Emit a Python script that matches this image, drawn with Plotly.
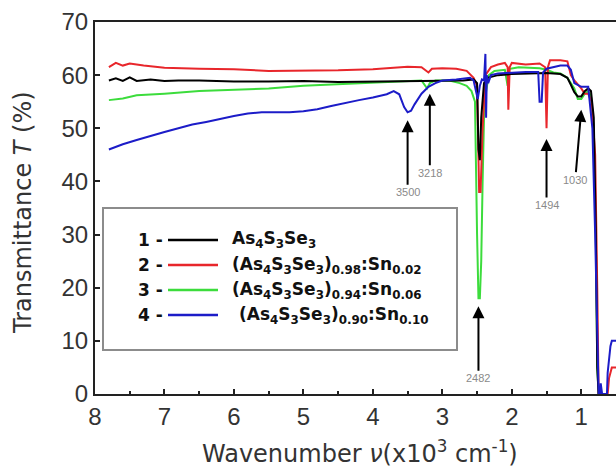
import plotly.graph_objects as go

# ---------------- data (wavenumber in 10^3 cm^-1, transmittance in %) -------------
black_x = [7.8, 7.7, 7.6, 7.5, 7.4, 7.2, 7.0, 6.8, 6.5, 6.0, 5.5, 5.0, 4.5, 4.0, 3.5, 3.0,
           2.7, 2.55, 2.5, 2.48, 2.46, 2.44, 2.40, 2.35, 2.2, 2.0, 1.8, 1.5, 1.3, 1.2,
           1.15, 1.1, 1.05, 1.0, 0.95, 0.9, 0.86, 0.82, 0.79, 0.77, 0.75, 0.72]
black_y = [59.0, 59.4, 58.9, 59.6, 58.9, 59.2, 58.9, 59.0, 59.0, 58.8, 58.8, 58.9, 58.7,
           58.8, 58.9, 58.9, 59.0, 59.2, 58.5, 46.0, 44.0, 52.0, 58.5, 59.5, 60.0, 60.2,
           60.3, 60.4, 60.2, 59.5, 58.2, 56.8, 56.0, 56.0, 57.0, 57.5, 57.0, 52.0, 30.0,
           5.0, 0.0, 0.0]

red_x = [7.8, 7.7, 7.6, 7.5, 7.3, 7.0, 6.5, 6.0, 5.5, 5.0, 4.5, 4.0, 3.5, 3.3, 3.2, 3.15,
         3.0, 2.8, 2.65, 2.55, 2.5, 2.47, 2.45, 2.42, 2.38, 2.3, 2.2, 2.1, 2.06, 2.05,
         2.03, 2.0, 1.8, 1.6, 1.52, 1.5, 1.48, 1.45, 1.3, 1.2, 1.15, 1.1, 1.0, 0.95, 0.9,
         0.85, 0.8, 0.77, 0.75, 0.70, 0.62, 0.60, 0.56, 0.50]
red_y = [61.5, 62.3, 61.8, 62.2, 61.8, 61.4, 61.2, 61.1, 60.8, 60.8, 60.9, 61.1, 61.6,
         61.5, 60.5, 61.2, 61.3, 61.2, 60.8, 59.5, 58.0, 38.0, 38.0, 50.0, 60.0, 61.5,
         62.0, 62.3, 61.5, 53.5, 61.5, 62.3, 62.0, 62.2, 61.5, 50.0, 61.5, 62.8, 62.8,
         62.6, 60.0, 59.0, 57.5, 56.5, 56.5, 55.0, 45.0, 20.0, 0.0, 0.0, 0.0, 3.0, 5.0, 5.0]

green_x = [7.8, 7.6, 7.4, 7.2, 7.0, 6.5, 6.0, 5.5, 5.0, 4.5, 4.0, 3.6, 3.3, 3.22, 3.18,
           3.1, 2.9, 2.75, 2.65, 2.58, 2.53, 2.5, 2.48, 2.46, 2.44, 2.42, 2.40, 2.37,
           2.33, 2.25, 2.1, 2.06, 2.04, 2.02, 1.9, 1.6, 1.5, 1.4, 1.3, 1.2, 1.1, 1.05,
           1.0, 0.95, 0.9, 0.86, 0.82, 0.79, 0.77, 0.75]
green_y = [55.3, 55.6, 56.2, 56.3, 56.5, 57.0, 57.3, 57.5, 58.0, 58.3, 58.6, 58.8, 59.0,
           57.5, 58.5, 59.0, 59.0, 58.5, 58.0, 57.0, 55.0, 30.0, 18.0, 18.0, 25.0, 40.0,
           52.0, 57.0, 60.0, 60.8, 61.0, 58.0, 61.2, 61.2, 61.5, 61.3, 61.0, 60.5, 60.3,
           59.5, 57.5, 55.5, 55.5, 56.5, 57.0, 56.0, 50.0, 30.0, 5.0, 0.0]

blue_x = [7.8, 7.6, 7.4, 7.2, 7.0, 6.8, 6.6, 6.4, 6.2, 6.0, 5.8, 5.6, 5.4, 5.2, 5.0, 4.8,
          4.6, 4.4, 4.2, 4.0, 3.8, 3.7, 3.62, 3.55, 3.5, 3.45, 3.4, 3.3, 3.2, 3.1, 3.0,
          2.8, 2.6, 2.55, 2.52, 2.49, 2.46, 2.43, 2.4, 2.38, 2.37, 2.36, 2.34, 2.3, 2.2,
          2.0, 1.8, 1.62, 1.6, 1.57, 1.55, 1.5, 1.3, 1.2, 1.15, 1.1, 1.0, 0.9, 0.86, 0.84,
          0.8, 0.77, 0.75, 0.73, 0.72, 0.70, 0.63, 0.62, 0.60, 0.58, 0.56, 0.53, 0.50]
blue_y = [46.0, 47.0, 47.8, 48.6, 49.3, 50.0, 50.7, 51.2, 51.8, 52.3, 52.8, 53.0, 53.0,
          53.0, 53.2, 53.6, 54.2, 54.8, 55.3, 55.8, 56.4, 57.0, 56.4, 54.0, 53.0, 53.3,
          54.5, 56.5, 57.8, 58.5, 59.0, 59.2, 59.5, 59.0, 57.0, 55.5, 58.0, 59.2, 59.0,
          64.0, 52.0, 60.0, 58.5, 60.0, 60.3, 60.5, 60.6, 60.6, 55.0, 55.0, 60.5, 61.2,
          61.8, 61.8, 61.0, 58.5, 57.8, 57.8, 52.0, 50.0, 30.0, 8.0, 0.0, 0.0, 2.0, 0.0,
          0.0, 4.0, 7.0, 9.0, 10.0, 10.0, 10.0]

series_names = ["As<sub>4</sub>S<sub>3</sub>Se<sub>3</sub>",
                "(As<sub>4</sub>S<sub>3</sub>Se<sub>3</sub>)<sub>0.98</sub>:Sn<sub>0.02</sub>",
                "(As<sub>4</sub>S<sub>3</sub>Se<sub>3</sub>)<sub>0.94</sub>:Sn<sub>0.06</sub>",
                "(As<sub>4</sub>S<sub>3</sub>Se<sub>3</sub>)<sub>0.90</sub>:Sn<sub>0.10</sub>"]
series_colors = ["#000000", "#e8262b", "#3cdc3c", "#1c1cc8"]

peak_labels = ["3500", "3218", "2482", "1494", "1030"]
peak_x = [3.5, 3.18, 2.48, 1.5, 1.0]
peak_y = [51.5, 56.5, 16.5, 48.0, 53.5]

x_ticks = [8, 7, 6, 5, 4, 3, 2, 1]
y_ticks = [0, 10, 20, 30, 40, 50, 60, 70]

# ---------------- figure -------------------------------------------------------------
W, H = 616, 473
L, R, T, B = 95, 0, 22, 79
pw, ph = W - L - R, H - T - B

def px2paper_x(px):
    return (px - L) / pw

def py2paper_y(py):
    return (H - B - py) / ph

fig = go.Figure()
order = [(green_x, green_y, series_colors[2]), (red_x, red_y, series_colors[1]),
         (black_x, black_y, series_colors[0]), (blue_x, blue_y, series_colors[3])]
for xs, ys, col in order:
    fig.add_trace(go.Scatter(x=xs, y=ys, mode="lines", line=dict(color=col, width=2),
                             showlegend=False, hoverinfo="skip"))

axis_font = dict(family="Liberation Sans, Arial, sans-serif", size=24, color="#333333")
title_font = dict(family="DejaVu Sans, sans-serif", size=24, color="#333333")
leg_font = dict(family="DejaVu Sans, sans-serif", size=17, color="#111111")

fig.update_layout(
    width=W, height=H, margin=dict(l=L, r=R, t=T, b=B, autoexpand=False),
    paper_bgcolor="white", plot_bgcolor="white",
    xaxis=dict(range=[8, 0.5], tickvals=x_ticks, ticks="inside", ticklen=5, tickwidth=1.5,
               tickcolor="#222", showline=True, linecolor="#222", linewidth=2, mirror=True,
               showgrid=False, zeroline=False, tickfont=axis_font,
               minor=dict(dtick=0.5, tick0=0, ticks="inside", ticklen=3, tickcolor="#222")),
    yaxis=dict(range=[0, 70], tickvals=y_ticks, ticks="inside", ticklen=5, tickwidth=1.5,
               tickcolor="#222", showline=True, linecolor="#222", linewidth=2,
               showgrid=False, zeroline=False, tickfont=axis_font),
)

annotations = []
# axis titles
annotations.append(dict(xref="paper", yref="paper", x=px2paper_x(23), y=py2paper_y(213),
                        xanchor="center", yanchor="middle",
                        text="Transmittance <i>T</i> (%)", textangle=-90, showarrow=False,
                        font=title_font))
annotations.append(dict(xref="paper", yref="paper", x=px2paper_x(360), y=py2paper_y(452),
                        xanchor="center", yanchor="middle",
                        text="Wavenumber <i>ν</i>(x10<sup>3</sup> cm<sup>-1</sup>)", showarrow=False,
                        font=title_font))

# peak arrows
offsets = [(0, 72), (0, 79), (0, 72), (0, 66), (-6, 70)]
for lab, xv, yv, (ax, ay) in zip(peak_labels, peak_x, peak_y, offsets):
    annotations.append(dict(x=xv, y=yv, xref="x", yref="y", text=lab, showarrow=True,
                            ax=ax, ay=ay, arrowhead=2, arrowsize=1.2, arrowwidth=2,
                            arrowcolor="#000", standoff=0,
                            font=dict(family="Liberation Sans, Arial, sans-serif", size=11,
                                      color="#8a8a8a")))

# legend box
shapes = [dict(type="rect", xref="paper", yref="paper",
               x0=px2paper_x(103), x1=px2paper_x(457), y0=py2paper_y(350), y1=py2paper_y(208),
               line=dict(color="#8c8c8c", width=2), fillcolor="white", layer="above")]
row_y = [240, 265, 290, 315]
text_x = [230, 230, 230, 237]
for i, (name, col) in enumerate(zip(series_names, series_colors)):
    yy = py2paper_y(row_y[i])
    annotations.append(dict(xref="paper", yref="paper", x=px2paper_x(136), y=yy,
                            xanchor="left", yanchor="middle", text=f"<b>{i+1} -</b>", showarrow=False,
                            font=leg_font))
    shapes.append(dict(type="line", xref="paper", yref="paper", x0=px2paper_x(168), x1=px2paper_x(218),
                       y0=yy, y1=yy, line=dict(color=col, width=2.5), layer="above"))
    annotations.append(dict(xref="paper", yref="paper", x=px2paper_x(text_x[i]), y=yy,
                            xanchor="left", yanchor="middle", text=f"<b>{name}</b>", showarrow=False,
                            font=leg_font))

fig.update_layout(annotations=annotations, shapes=shapes)
fig.write_html("out.html")
